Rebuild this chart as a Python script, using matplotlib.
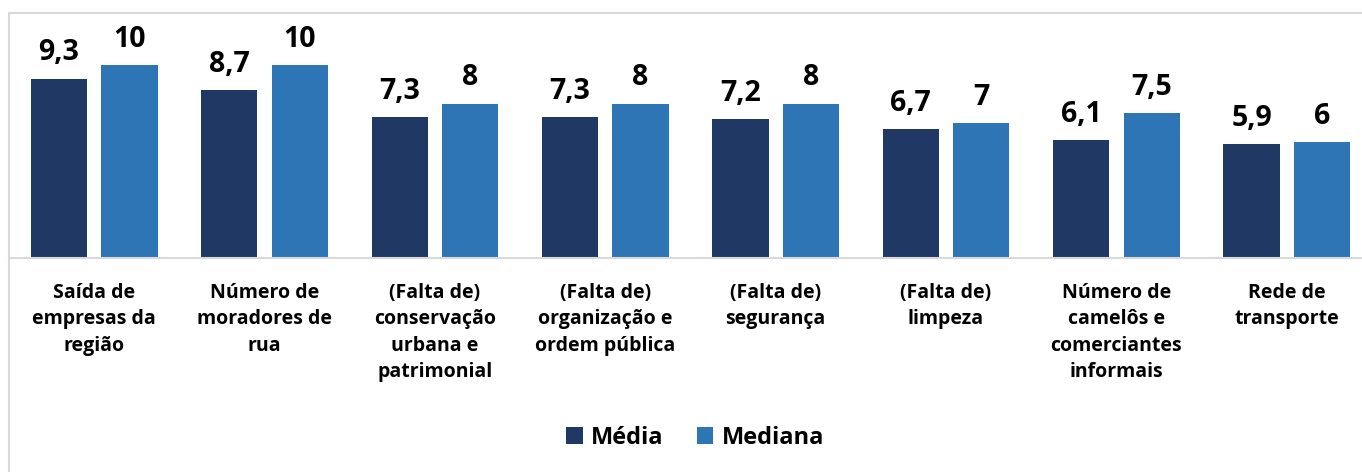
import matplotlib.pyplot as plt
import matplotlib.patches as mpatches
import numpy as np

# Data
categorias = [
    "Saída de\nempresas da\nregião",
    "Número de\nmoradores de\nrua",
    "(Falta de)\nconservação\nurbana e\npatrimonial",
    "(Falta de)\norganização e\nordem pública",
    "(Falta de)\nsegurança",
    "(Falta de)\nlimpeza",
    "Número de\ncamelôs e\ncomerciantes\ninformais",
    "Rede de\ntransporte",
]
media = [9.3, 8.7, 7.3, 7.3, 7.2, 6.7, 6.1, 5.9]
mediana = [10, 10, 8, 8, 8, 7, 7.5, 6]
series_names = ["Média", "Mediana"]

COR_MEDIA = "#203864"
COR_MEDIANA = "#2E75B6"
FONT = "Open Sans"

W, H, DPI = 1362, 472, 100
fig = plt.figure(figsize=(W / DPI, H / DPI), dpi=DPI)

# chart frame (runs past right/bottom edges like the screenshot)
frame = mpatches.Rectangle((9 / W, -0.1), 1.2, 1 - 13 / H + 0.1, transform=fig.transFigure,
                           fill=False, edgecolor="#D9D9D9", linewidth=1.5)
fig.add_artist(frame)

# axes: baseline at y=258, top at y=13, x from 9 to 1372
ax = fig.add_axes([9 / W, 1 - 258 / H, (1372 - 9) / W, (258 - 13) / H])
x = np.arange(len(categorias))
bw = 0.33
off = 0.207
b1 = ax.bar(x - off, media, bw, color=COR_MEDIA, label=series_names[0])
b2 = ax.bar(x + off, mediana, bw, color=COR_MEDIANA, label=series_names[1])

ax.set_xlim(-0.5, len(categorias) - 0.5)
ax.set_ylim(0, 245 / 19.3)

def fmt(v):
    return f"{v:g}".replace(".", ",")

for bars, vals in ((b1, media), (b2, mediana)):
    ax.bar_label(bars, labels=[fmt(v) for v in vals], padding=8,
                 fontsize=20.5, fontweight="bold", family=FONT, color="black")

ax.set_xticks(x)
ax.set_xticklabels(categorias, fontsize=14, fontweight="bold", family=FONT,
                   linespacing=1.42, va="top")
ax.tick_params(axis="x", length=0, pad=18)
ax.set_yticks([])
for s in ["top", "right", "left"]:
    ax.spines[s].set_visible(False)
ax.spines["bottom"].set_color("#D9D9D9")
ax.spines["bottom"].set_linewidth(1.5)
ax.patch.set_alpha(0)

leg = fig.legend(handles=[b1, b2], loc="center", bbox_to_anchor=(695 / W, 1 - 438 / H),
                 ncol=2, frameon=False, handlelength=0.7, handleheight=0.7,
                 handletextpad=0.35, columnspacing=1.4,
                 prop={"family": FONT, "weight": "bold", "size": 17})

fig.savefig("out.png", dpi=DPI)
